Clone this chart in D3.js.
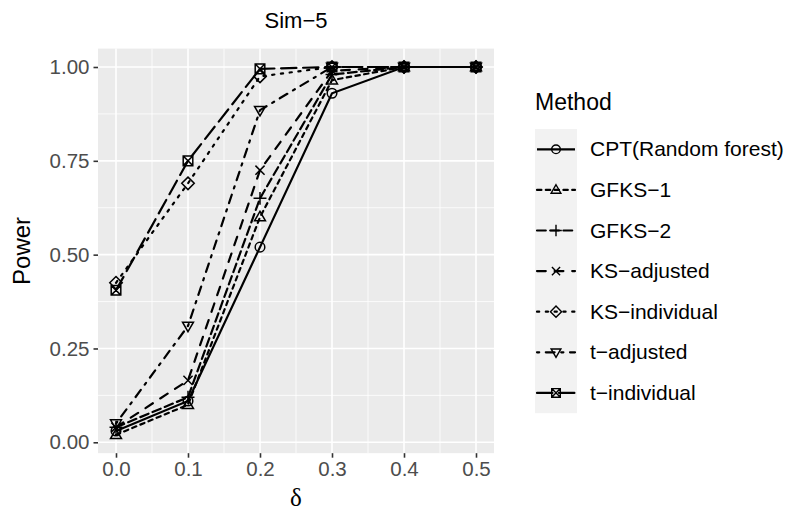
<!DOCTYPE html>
<html>
<head>
<meta charset="utf-8">
<script src="https://cdn.jsdelivr.net/npm/d3@7"></script>
<style>
  body { margin: 0; background: #fff; }
  text { font-family: "Liberation Sans", Arial, Helvetica, sans-serif; }
</style>
</head>
<body>
<div id="chart"></div>
<script>
// 資料：δ 與各方法的 power
const delta = [0, 0.1, 0.2, 0.3, 0.4, 0.5];
const methods = ['CPT(Random forest)', 'GFKS−1', 'GFKS−2', 'KS−adjusted', 'KS−individual', 't−adjusted', 't−individual'];
const cpt    = [0.03, 0.11, 0.52, 0.93, 1, 1];
const gfks1  = [0.02, 0.10, 0.60, 0.965, 1, 1];
const gfks2  = [0.04, 0.12, 0.65, 0.98, 1, 1];
const ksAdj  = [0.04, 0.165, 0.725, 0.99, 1, 1];
const ksInd  = [0.425, 0.69, 0.975, 1, 1, 1];
const tAdj   = [0.05, 0.31, 0.885, 1, 1, 1];
const tInd   = [0.405, 0.75, 0.995, 1, 1, 1];
const xTicks = [0, 0.1, 0.2, 0.3, 0.4, 0.5];
const yTicks = [0, 0.25, 0.5, 0.75, 1];

const seriesValues = [cpt, gfks1, gfks2, ksAdj, ksInd, tAdj, tInd];

// 線寬與虛線樣式（ggplot 預設 linetype 順序）
const lw = 2.2;
const dashes = [null, [2, 2], [4, 2], [4, 4], [1, 3], [1, 3, 4, 3], [7, 3]];
const shapes = ['circle', 'triUp', 'plus', 'cross', 'diamond', 'triDown', 'boxX'];

const W = 797, H = 510;
const svg = d3.select('#chart').append('svg')
  .attr('width', W).attr('height', H);

// 比例尺
const x = d3.scaleLinear().domain([0, 0.5]).range([116, 476]);
const y = d3.scaleLinear().domain([0, 1]).range([442.3, 67]);
const px0 = x(-0.025), px1 = x(0.525);
const py0 = y(1.049), py1 = y(-0.029);

// 面板背景
svg.append('rect')
  .attr('x', px0).attr('y', py0)
  .attr('width', px1 - px0).attr('height', py1 - py0)
  .attr('fill', '#ebebeb');

// 次要格線
const grid = svg.append('g');
[0.05, 0.15, 0.25, 0.35, 0.45].forEach(v => {
  grid.append('line').attr('x1', x(v)).attr('x2', x(v)).attr('y1', py0).attr('y2', py1)
    .attr('stroke', '#fff').attr('stroke-width', 0.8);
});
[0.125, 0.375, 0.625, 0.875].forEach(v => {
  grid.append('line').attr('x1', px0).attr('x2', px1).attr('y1', y(v)).attr('y2', y(v))
    .attr('stroke', '#fff').attr('stroke-width', 0.8);
});
// 主要格線
xTicks.forEach(v => {
  grid.append('line').attr('x1', x(v)).attr('x2', x(v)).attr('y1', py0).attr('y2', py1)
    .attr('stroke', '#fff').attr('stroke-width', 1.6);
});
yTicks.forEach(v => {
  grid.append('line').attr('x1', px0).attr('x2', px1).attr('y1', y(v)).attr('y2', y(v))
    .attr('stroke', '#fff').attr('stroke-width', 1.6);
});

// 座標軸
const xAxis = svg.append('g')
  .attr('transform', `translate(0,${py1})`)
  .call(d3.axisBottom(x).tickValues(xTicks).tickFormat(d3.format('.1f')).tickSize(4.5).tickPadding(4));
const yAxis = svg.append('g')
  .attr('transform', `translate(${px0},0)`)
  .call(d3.axisLeft(y).tickValues(yTicks).tickFormat(d3.format('.2f')).tickSize(4.5).tickPadding(4));
[xAxis, yAxis].forEach(a => {
  a.select('.domain').remove();
  a.selectAll('line').attr('stroke', '#333').attr('stroke-width', 1.6);
  a.selectAll('text').attr('fill', '#4d4d4d').style('font-size', '20.5px')
    .style('font-family', '"Liberation Sans", Arial, sans-serif');
});

// 標記形狀
function shapePath(s, r) {
  const p = d3.path();
  if (s === 'circle') { p.moveTo(r, 0); p.arc(0, 0, r, 0, 2 * Math.PI); }
  else if (s === 'triUp') {
    const h = r * 1.2;
    p.moveTo(0, -h); p.lineTo(h * 0.95, h * 0.65); p.lineTo(-h * 0.95, h * 0.65); p.closePath();
  } else if (s === 'triDown') {
    const h = r * 1.2;
    p.moveTo(0, h); p.lineTo(h * 0.95, -h * 0.65); p.lineTo(-h * 0.95, -h * 0.65); p.closePath();
  } else if (s === 'plus') {
    const a = r * 1.35;
    p.moveTo(-a, 0); p.lineTo(a, 0); p.moveTo(0, -a); p.lineTo(0, a);
  } else if (s === 'cross') {
    const a = r * 0.95;
    p.moveTo(-a, -a); p.lineTo(a, a); p.moveTo(-a, a); p.lineTo(a, -a);
  } else if (s === 'diamond') {
    const a = r * 1.3;
    p.moveTo(0, -a); p.lineTo(a, 0); p.lineTo(0, a); p.lineTo(-a, 0); p.closePath();
  } else if (s === 'boxX') {
    const a = r;
    p.rect(-a, -a, 2 * a, 2 * a);
    p.moveTo(-a, -a); p.lineTo(a, a); p.moveTo(-a, a); p.lineTo(a, -a);
  }
  return p.toString();
}

const line = d3.line().x(d => x(d[0])).y(d => y(d[1]));
const plot = svg.append('g');

seriesValues.forEach((vals, i) => {
  const pts = delta.map((d, j) => [d, vals[j]]);
  plot.append('path')
    .attr('d', line(pts))
    .attr('fill', 'none').attr('stroke', '#000').attr('stroke-width', lw)
    .attr('stroke-linecap', dashes[i] ? 'round' : 'butt')
    .attr('stroke-dasharray', dashes[i] ? dashes[i].map(v => v * lw).join(',') : null);
});
seriesValues.forEach((vals, i) => {
  plot.selectAll(null).data(delta.map((d, j) => [d, vals[j]])).enter()
    .append('path')
    .attr('transform', d => `translate(${x(d[0])},${y(d[1])})`)
    .attr('d', shapePath(shapes[i], 4.8))
    .attr('fill', 'none').attr('stroke', '#000').attr('stroke-width', 1.5);
});

// 標題與軸標題
svg.append('text').attr('x', (px0 + px1) / 2).attr('y', 28)
  .attr('text-anchor', 'middle').style('font-size', '22px').text('Sim−5');
svg.append('text').attr('transform', `translate(30,${(py0 + py1) / 2}) rotate(-90)`)
  .attr('text-anchor', 'middle').style('font-size', '24px').text('Power');
svg.append('text').attr('x', (px0 + px1) / 2).attr('y', 506)
  .attr('text-anchor', 'middle')
  .style('font-family', '"Liberation Serif", "Times New Roman", serif')
  .style('font-size', '25px').text('δ');

// 圖例
const lg = svg.append('g');
lg.append('text').attr('x', 535).attr('y', 110).style('font-size', '23px').text('Method');
const keyX = 535, keyW = 42, keyY = 129, keyH = 40.6;
lg.append('rect').attr('x', keyX).attr('y', keyY)
  .attr('width', keyW).attr('height', keyH * methods.length).attr('fill', '#f2f2f2');
methods.forEach((m, i) => {
  const cy = keyY + keyH * (i + 0.5);
  lg.append('line').attr('x1', keyX + 2).attr('x2', keyX + keyW - 2).attr('y1', cy).attr('y2', cy)
    .attr('stroke', '#000').attr('stroke-width', lw)
    .attr('stroke-linecap', dashes[i] ? 'round' : 'butt')
    .attr('stroke-dasharray', dashes[i] ? dashes[i].map(v => v * lw).join(',') : null);
  lg.append('path').attr('transform', `translate(${keyX + keyW / 2},${cy})`)
    .attr('d', shapePath(shapes[i], 4.3))
    .attr('fill', 'none').attr('stroke', '#000').attr('stroke-width', 1.4);
  lg.append('text').attr('x', 590).attr('y', cy + 7).style('font-size', '21px').text(m);
});
</script>
</body>
</html>
